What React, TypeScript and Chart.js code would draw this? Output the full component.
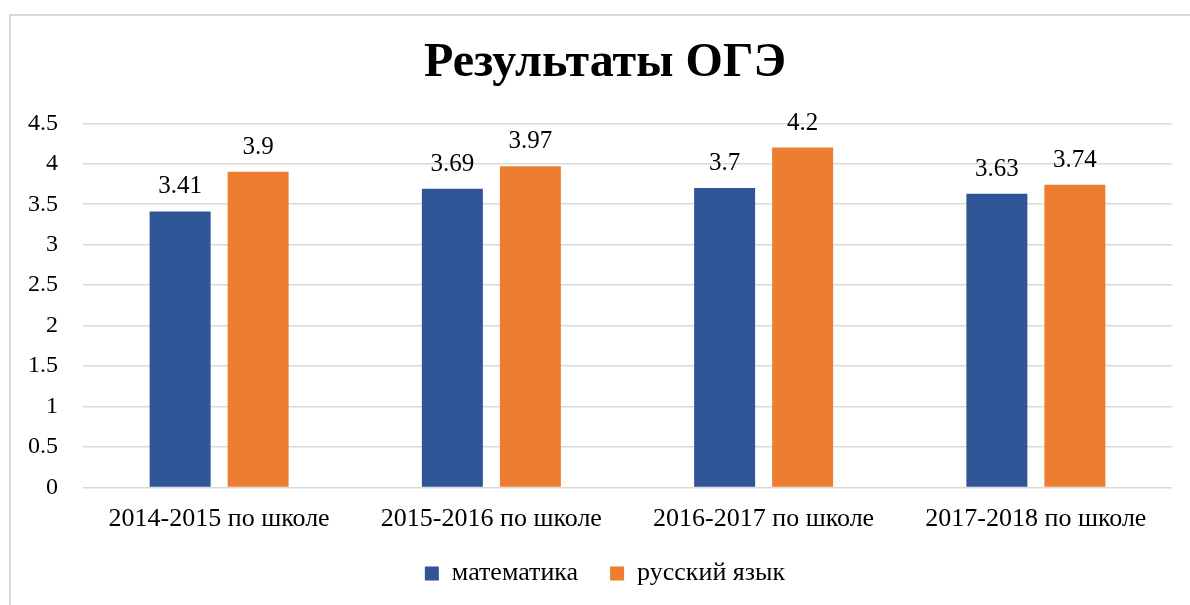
import React, { useEffect, useRef } from "react";
import { Chart, registerables } from "chart.js";

Chart.register(...registerables);

const titleText = "Результаты ОГЭ";
const categories = [
  "2014-2015 по школе",
  "2015-2016 по школе",
  "2016-2017 по школе",
  "2017-2018 по школе",
];
const seriesNames = ["математика", "русский язык"];
const mathValues = [3.41, 3.69, 3.7, 3.63];
const russianValues = [3.9, 3.97, 4.2, 3.74];
const yTicks = [0, 0.5, 1, 1.5, 2, 2.5, 3, 3.5, 4, 4.5];

const FONT = "'Liberation Serif', 'Times New Roman', serif";
const BLUE = "#2F5597";
const ORANGE = "#ED7D31";
const LEGEND_PADDING = 32;
const LEGEND_TOP = 560.5 - LEGEND_PADDING;

const dataLabels = {
  id: "dataLabels",
  afterDatasetsDraw(chart: any) {
    const ctx = chart.ctx;
    ctx.save();
    ctx.font = `25px ${FONT}`;
    ctx.fillStyle = "#000";
    ctx.textAlign = "center";
    ctx.textBaseline = "alphabetic";
    chart.data.datasets.forEach((ds: any, i: number) => {
      const meta = chart.getDatasetMeta(i);
      meta.data.forEach((bar: any, j: number) => {
        ctx.fillText(String(ds.data[j]), bar.x, bar.y - 18);
      });
    });
    ctx.restore();
  },
};

const legendShift = {
  id: "legendShift",
  afterLayout(chart: any) {
    const lg = chart.legend;
    if (!lg) return;
    const d = lg.top - LEGEND_TOP;
    lg.top -= d;
    lg.bottom -= d;
  },
};

export default function App() {
  const ref = useRef<HTMLCanvasElement | null>(null);

  useEffect(() => {
    document.body.style.overflow = "hidden";
    const canvas = ref.current;
    if (!canvas) return;
    const chart = new Chart(canvas, {
      type: "bar",
      data: {
        labels: categories,
        datasets: [
          {
            label: seriesNames[0],
            data: mathValues,
            backgroundColor: BLUE,
            borderWidth: 0,
            categoryPercentage: 0.573,
            barPercentage: 0.782,
          },
          {
            label: seriesNames[1],
            data: russianValues,
            backgroundColor: ORANGE,
            borderWidth: 0,
            categoryPercentage: 0.573,
            barPercentage: 0.782,
          },
        ],
      },
      options: {
        animation: false,
        responsive: false,
        maintainAspectRatio: false,
        layout: { padding: { left: 20, right: 0, top: 0, bottom: 21.4 } },
        plugins: {
          title: {
            display: true,
            text: titleText,
            color: "#000",
            font: { family: FONT, size: 48, weight: "bold" },
            padding: { top: 35, bottom: 30.7 },
          },
          legend: {
            display: true,
            position: "bottom",
            labels: {
              color: "#000",
              font: { family: FONT, size: 26 },
              boxWidth: 14,
              boxHeight: 14,
              padding: LEGEND_PADDING,
            },
          },
          tooltip: { enabled: false },
        },
        scales: {
          x: {
            grid: { display: false, drawTicks: false },
            border: { display: false },
            ticks: {
              color: "#000",
              font: { family: FONT, size: 26 },
              padding: 16,
              maxRotation: 0,
              autoSkip: false,
            },
          },
          y: {
            min: yTicks[0],
            max: yTicks[yTicks.length - 1],
            afterBuildTicks(scale: any) {
              scale.ticks = yTicks.map((v) => ({ value: v }));
            },
            grid: { color: "#d9d9d9", lineWidth: 1.5, drawTicks: false },
            border: { display: false },
            ticks: {
              color: "#000",
              font: { family: FONT, size: 24 },
              padding: 25,
              callback: (v: any) => String(v),
            },
            afterFit(scale: any) {
              scale.width = 63;
            },
          },
          y2: {
            position: "right",
            display: true,
            grid: { display: false, drawTicks: false },
            border: { display: false },
            ticks: { display: false },
            afterFit(scale: any) {
              scale.width = 18;
            },
          },
        },
      },
      plugins: [dataLabels, legendShift],
    });
    return () => chart.destroy();
  }, []);

  return (
    <div>
      <div
        style={{
          position: "fixed",
          left: 9,
          top: 14,
          width: 1300,
          height: 700,
          border: "2px solid #d9d9d9",
          boxSizing: "border-box",
          background: "#fff",
        }}
      />
      <div style={{ position: "fixed", left: 0, top: 0, width: 1190, height: 640 }}>
        <canvas ref={ref} width={1190} height={640} style={{ width: 1190, height: 640, display: "block" }} />
      </div>
    </div>
  );
}
